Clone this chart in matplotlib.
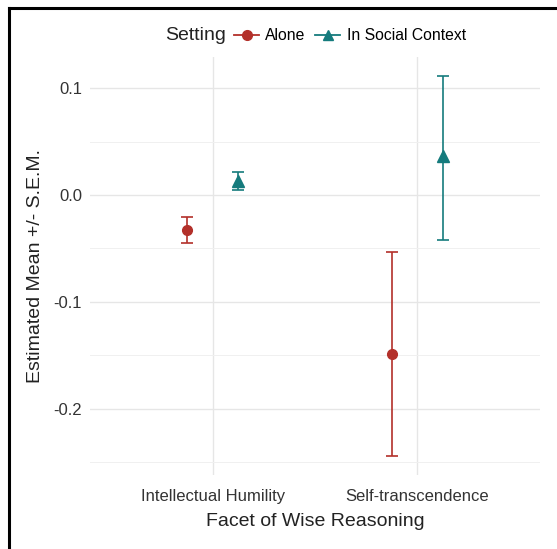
import numpy as np
import matplotlib.pyplot as plt
from matplotlib.lines import Line2D

plt.rcParams['font.family'] = ['Liberation Sans', 'DejaVu Sans']

# data
facets = ['Intellectual Humility', 'Self-transcendence']
settings = ['Alone', 'In Social Context']
alone_mean = [-0.033, -0.149]
alone_lo = [-0.045, -0.244]
alone_hi = [-0.021, -0.053]
social_mean = [0.013, 0.036]
social_lo = [0.005, -0.042]
social_hi = [0.021, 0.111]

colors = ['#B3302A', '#157B7D']
markers = ['o', '^']

fig = plt.figure(figsize=(5.57, 5.49), dpi=100)
ax = fig.add_axes([0.162, 0.135, 0.807, 0.761])

x = np.arange(len(facets)) + 1
dodge = 0.125
series = [(alone_mean, alone_lo, alone_hi), (social_mean, social_lo, social_hi)]
for i, (m, lo, hi) in enumerate(series):
    m = np.array(m)
    err = [m - np.array(lo), np.array(hi) - m]
    xs = x + (i * 2 - 1) * dodge
    ax.errorbar(xs, m, yerr=err, fmt=markers[i], color=colors[i],
                ms=7 if i == 0 else 8, elinewidth=1.2, capsize=4,
                capthick=1.2, zorder=3)

ax.set_xlim(0.4, 2.6)
ax.set_ylim(-0.262, 0.129)
ax.set_xticks(x)
ax.set_xticklabels(facets, fontsize=12, color='#333333')
ax.set_yticks([0.1, 0.0, -0.1, -0.2])
ax.set_yticklabels(['0.1', '0.0', '-0.1', '-0.2'], fontsize=12, color='#333333')
ax.set_yticks([0.05, -0.05, -0.15, -0.25], minor=True)
ax.tick_params(which='both', length=0, pad=6)
ax.tick_params(axis='x', pad=10)
ax.grid(True, which='major', color='#E6E6E6', lw=1.0)
ax.grid(True, which='minor', axis='y', color='#F0F0F0', lw=0.7)
ax.set_axisbelow(True)
for s in ax.spines.values():
    s.set_visible(False)

ax.set_xlabel('Facet of Wise Reasoning', fontsize=14, color='#222222', labelpad=7)
ax.set_ylabel('Estimated Mean +/- S.E.M.', fontsize=14, color='#222222', labelpad=7)

# legend at top
fig.text(165 / 557, 1 - 36 / 549, 'Setting', fontsize=14, color='#222222',
         ha='left', va='center')
handles = [Line2D([0], [0], color=colors[i], marker=markers[i], lw=1.3, ms=7)
           for i in range(2)]
fig.legend(handles, settings, loc='center left', ncol=2,
           bbox_to_anchor=(234 / 557, 1 - 36 / 549), frameon=False,
           fontsize=11.3, handlelength=1.6, handletextpad=0.4, columnspacing=0.6,
           borderpad=0, borderaxespad=0)

# black frame on the top and left edges
fig.add_artist(Line2D([9 / 557, 9 / 557], [0, 1 - 8 / 549], color='black', lw=2.2))
fig.add_artist(Line2D([9 / 557, 1], [1 - 8 / 549, 1 - 8 / 549], color='black', lw=2.2))

fig.savefig('out.png', dpi=100)
